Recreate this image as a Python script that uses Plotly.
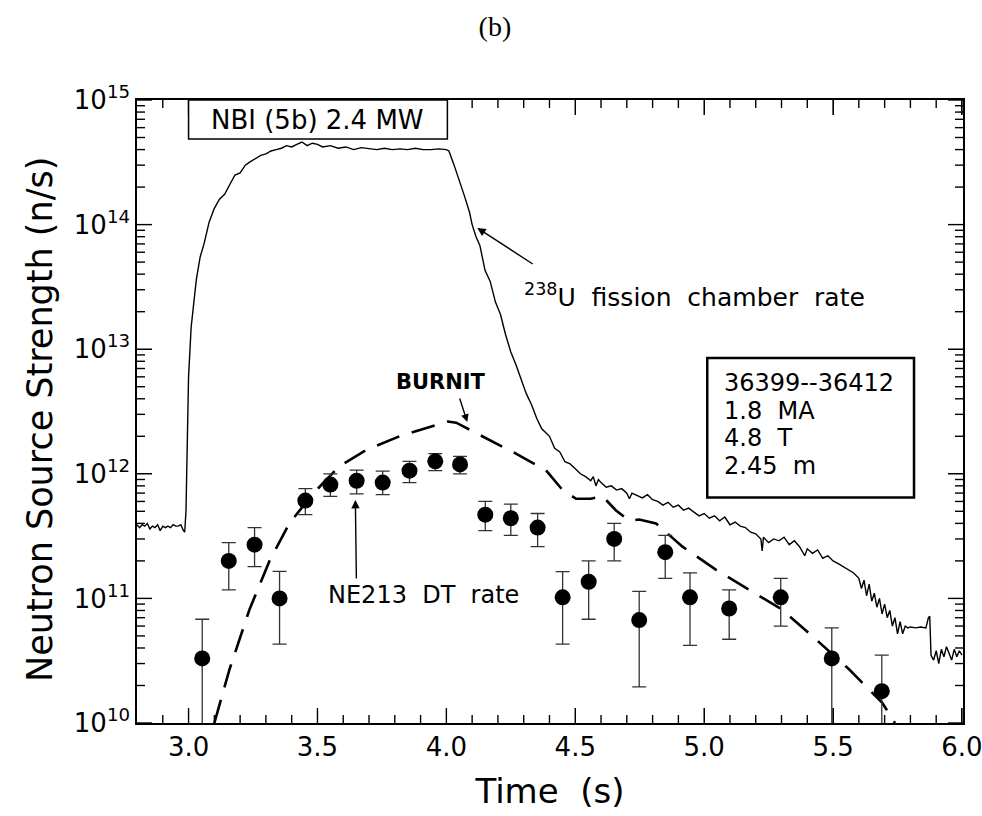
import math
import plotly.graph_objects as go

# ---------------- data ----------------
# 238U fission chamber rate (n/s)
fc_t = [2.80, 2.81, 2.82, 2.83, 2.84, 2.85, 2.86, 2.87, 2.88, 2.89, 2.90, 2.91, 2.92, 2.93, 2.94,
        2.95, 2.96, 2.97, 2.98, 2.985, 2.99, 2.995, 3.00, 3.01, 3.02, 3.03, 3.045, 3.06, 3.08,
        3.10, 3.12, 3.14, 3.16, 3.18, 3.20, 3.22, 3.24, 3.26, 3.28, 3.30, 3.32, 3.34, 3.36, 3.38,
        3.40, 3.42, 3.44, 3.46, 3.48, 3.50, 3.52, 3.55, 3.58, 3.61, 3.64, 3.67, 3.70, 3.73, 3.76,
        3.79, 3.82, 3.85, 3.88, 3.91, 3.94, 3.97, 4.00, 4.01, 4.03, 4.05, 4.07, 4.09, 4.10, 4.115,
        4.13, 4.15, 4.17, 4.19, 4.21, 4.23, 4.25, 4.27, 4.29, 4.31, 4.33, 4.35, 4.37, 4.40, 4.42,
        4.44, 4.46, 4.48, 4.50, 4.52, 4.54, 4.56, 4.57, 4.58, 4.59, 4.60, 4.62, 4.64, 4.66, 4.68,
        4.70, 4.71, 4.72, 4.74, 4.76, 4.78, 4.80, 4.82, 4.84, 4.86, 4.88, 4.90, 4.92, 4.94, 4.96,
        4.98, 5.00, 5.02, 5.04, 5.06, 5.08, 5.10, 5.12, 5.14, 5.16, 5.18, 5.20, 5.22, 5.225, 5.23,
        5.25, 5.27, 5.29, 5.31, 5.33, 5.35, 5.37, 5.39, 5.40, 5.42, 5.44, 5.46, 5.48, 5.50, 5.52,
        5.54, 5.56, 5.58, 5.60, 5.61, 5.62, 5.63, 5.64, 5.65, 5.66, 5.67, 5.68, 5.69, 5.70, 5.71,
        5.72, 5.73, 5.74, 5.75, 5.76, 5.77, 5.78, 5.79, 5.80, 5.82, 5.84, 5.86, 5.87, 5.875, 5.88,
        5.89, 5.90, 5.91, 5.92, 5.93, 5.94, 5.95, 5.96, 5.97, 5.98, 5.99, 6.00]
fc_v = [3.9e11, 3.7e11, 3.9e11, 3.8e11, 4.0e11, 3.6e11, 3.8e11, 3.7e11, 3.9e11, 3.5e11, 3.8e11,
        3.7e11, 3.8e11, 3.7e11, 3.9e11, 3.8e11, 3.8e11, 3.9e11, 3.5e11, 3.4e11, 5e11, 2e12, 6e12,
        1.5e13, 2.5e13, 3.6e13, 5.5e13, 7e13, 1.05e14, 1.35e14, 1.6e14, 1.75e14, 2.1e14, 2.5e14,
        2.6e14, 3.0e14, 3.2e14, 3.4e14, 3.6e14, 3.7e14, 3.9e14, 4.0e14, 4.1e14, 4.3e14, 4.2e14,
        4.4e14, 4.6e14, 4.3e14, 4.5e14, 4.4e14, 4.2e14, 4.3e14, 4.1e14, 4.2e14, 4.0e14, 4.15e14,
        4.05e14, 4.0e14, 4.1e14, 4.0e14, 4.05e14, 4.0e14, 4.1e14, 4.0e14, 4.0e14, 4.05e14, 4.0e14,
        3.9e14, 3.0e14, 2.3e14, 1.7e14, 1.25e14, 1.0e14, 8e13, 6.8e13, 4.3e13, 3.5e13, 2.4e13,
        1.9e13, 1.3e13, 9.5e12, 7.5e12, 5.8e12, 4.4e12, 3.6e12, 2.8e12, 2.3e12, 2.0e12, 1.6e12,
        1.5e12, 1.25e12, 1.2e12, 1.1e12, 1.0e12, 9.5e11, 8.8e11, 9.5e11, 8.0e11, 9.0e11, 8.5e11,
        7.8e11, 8.0e11, 7.4e11, 7.6e11, 7.0e11, 6.3e11, 7.0e11, 6.7e11, 6.4e11, 6.8e11, 6.2e11,
        6.0e11, 5.6e11, 5.9e11, 5.4e11, 5.6e11, 5.1e11, 5.3e11, 4.9e11, 4.6e11, 4.8e11, 4.4e11,
        4.6e11, 4.2e11, 4.5e11, 3.9e11, 4.1e11, 3.8e11, 3.7e11, 3.4e11, 3.3e11, 3.0e11, 2.4e11,
        3.1e11, 2.8e11, 3.0e11, 2.9e11, 3.1e11, 2.7e11, 2.9e11, 2.6e11, 2.2e11, 2.5e11, 2.3e11,
        2.45e11, 2.1e11, 2.2e11, 2.0e11, 1.9e11, 1.8e11, 1.7e11, 1.6e11, 1.45e11, 1.2e11, 1.4e11,
        1.05e11, 1.3e11, 9.5e10, 1.1e11, 8.5e10, 1.0e11, 7.5e10, 9e10, 7e10, 8e10, 6e10, 7e10,
        5.2e10, 6.5e10, 5.2e10, 6e10, 5.8e10, 5.9e10, 5.8e10, 5.9e10, 5.8e10, 7e10, 7.2e10, 3.5e10,
        3.2e10, 3.8e10, 3.0e10, 3.9e10, 3.4e10, 4.1e10, 3.6e10, 3.2e10, 3.9e10, 3.4e10, 3.8e10,
        3.5e10]

# BURNIT calculation (n/s)
burnit_t = [3.10, 3.159, 3.236, 3.314, 3.391, 3.482, 3.585, 3.689, 3.818, 3.947, 4.005, 4.038,
            4.141, 4.27, 4.386, 4.451, 4.503, 4.56, 4.606, 4.657, 4.709, 4.748, 4.813, 4.916,
            5.045, 5.174, 5.303, 5.433, 5.562, 5.691, 5.74]
burnit_v = [1.0e10, 2.7e10, 8.1e10, 2.0e11, 4.0e11, 6.9e11, 1.15e12, 1.55e12, 2.0e12, 2.4e12,
            2.63e12, 2.57e12, 2.0e12, 1.45e12, 1.07e12, 7.4e11, 6.3e11, 6.3e11, 6.6e11, 5.1e11,
            4.2e11, 4.3e11, 4.0e11, 2.6e11, 1.7e11, 1.17e11, 8.1e10, 4.7e10, 2.7e10, 1.45e10,
            1.0e10]

# NE213 DT rate (n/s) with error bar limits
ne_t = [3.053, 3.156, 3.256, 3.353, 3.453, 3.55, 3.652, 3.753, 3.857, 3.957, 4.053, 4.151,
        4.25, 4.354, 4.451, 4.552, 4.651, 4.748, 4.849, 4.945, 5.097, 5.297, 5.495, 5.689]
ne_v = [3.3e10, 2.0e11, 2.7e11, 1.0e11, 6.1e11, 8.2e11, 8.8e11, 8.5e11, 1.06e12, 1.26e12,
        1.19e12, 4.7e11, 4.4e11, 3.7e11, 1.02e11, 1.36e11, 3.0e11, 6.7e10, 2.35e11, 1.02e11,
        8.3e10, 1.02e11, 3.3e10, 1.8e10]
ne_hi = [6.8e10, 2.8e11, 3.7e11, 1.65e11, 7.6e11, 1.0e12, 1.07e12, 1.05e12, 1.26e12, 1.45e12,
         1.38e12, 6.0e11, 5.7e11, 4.8e11, 1.64e11, 2.0e11, 4.0e11, 1.14e11, 3.2e11, 1.6e11,
         1.17e11, 1.45e11, 5.8e10, 3.5e10]
ne_lo = [5e9, 1.17e11, 1.8e11, 4.3e10, 4.7e11, 6.6e11, 6.9e11, 6.8e11, 8.5e11, 1.06e12,
         1.0e12, 3.5e11, 3.2e11, 2.6e11, 4.3e10, 6.8e10, 2.0e11, 1.95e10, 1.45e11, 4.2e10,
         4.7e10, 6.0e10, 5e9, 5e9]

x_ticks = [3.0, 3.5, 4.0, 4.5, 5.0, 5.5, 6.0]
x_ticktext = ["3.0", "3.5", "4.0", "4.5", "5.0", "5.5", "6.0"]
y_exps = [10, 11, 12, 13, 14, 15]
info_lines = ["36399--36412", "1.8  MA", "4.8  T", "2.45  m"]

# ---------------- figure ----------------
FONT = "DejaVu Sans"
X0, X1 = 2.8, 6.0
Y0, Y1 = 10.0, 15.0
XR = [X0, X1 + 0.004]
PLOT_W, PLOT_H = 982 - 137 - 19, 816 - 100 - 93
T_PER_PX = (XR[1] - XR[0]) / PLOT_W
DEC_PER_PX = (Y1 - Y0) / PLOT_H


def px(t):
    return (t - X0) / (XR[1] - X0)


def py(lg):
    return (lg - Y0) / (Y1 - Y0)


x_minor = [round(X0 + 0.1 * i, 1) for i in range(1, 32)]
x_minor = [v for v in x_minor if v not in x_ticks]
y_minor = [m * 10 ** e for e in y_exps[:-1] for m in range(2, 10)]

# inside tick marks on all four sides, built from the tick lists
tk_x, tk_y = [], []
for t, ln in [(v, 15) for v in x_ticks] + [(v, 8) for v in x_minor]:
    f = 10 ** (ln * DEC_PER_PX)
    tk_x += [t, t, None, t, t, None]
    tk_y += [10 ** Y0, 10 ** Y0 * f, None, 10 ** Y1, 10 ** Y1 / f, None]
for v, ln in [(10 ** e, 15) for e in y_exps] + [(v, 8) for v in y_minor]:
    d = ln * T_PER_PX
    tk_x += [XR[0], XR[0] + d, None, XR[1], XR[1] - d, None]
    tk_y += [v, v, None, v, v, None]

fig = go.Figure()

fig.add_trace(go.Scatter(x=fc_t, y=fc_v, mode="lines",
                         line=dict(color="black", width=1.4), showlegend=False))
fig.add_trace(go.Scatter(x=burnit_t, y=burnit_v, mode="lines",
                         line=dict(color="black", width=2.6, dash="24px,13px"),
                         showlegend=False))
fig.add_trace(go.Scatter(
    x=ne_t, y=ne_v, mode="markers",
    marker=dict(color="black", size=16),
    error_y=dict(type="data", symmetric=False,
                 array=[h - v for h, v in zip(ne_hi, ne_v)],
                 arrayminus=[v - l for v, l in zip(ne_v, ne_lo)],
                 color="#333", thickness=1.3, width=7),
    showlegend=False))
fig.add_trace(go.Scatter(x=tk_x, y=tk_y, mode="lines", connectgaps=False,
                         line=dict(color="black", width=1.4), hoverinfo="skip",
                         showlegend=False, cliponaxis=False))

fig.update_layout(
    width=982, height=816,
    margin=dict(l=137, r=19, t=100, b=93),
    paper_bgcolor="white", plot_bgcolor="white",
    font=dict(family=FONT, color="black"),
    title=dict(text="(b)", x=0.504, xanchor="center", y=0.968, yanchor="middle",
               font=dict(family="Liberation Serif", size=28, color="black")),
    xaxis=dict(range=XR, tickmode="array", tickvals=x_ticks, ticktext=x_ticktext,
               ticklabeloverflow="allow", automargin=False,
               ticks="inside", ticklen=15, tickwidth=1.3, tickcolor="black",
               showline=True, linecolor="black", linewidth=1.5, mirror="ticks",
               showgrid=False, zeroline=False,
               tickfont=dict(family=FONT, size=26),
               title=dict(text="Time  (s)", font=dict(family=FONT, size=34), standoff=18)),
    yaxis=dict(type="log", range=[Y0, Y1], tickmode="array",
               tickvals=[10 ** e for e in y_exps],
               ticktext=["10<sup>%d</sup>" % e for e in y_exps],
               automargin=False,
               ticks="inside", ticklen=15, tickwidth=1.3, tickcolor="black",
               showline=True, linecolor="black", linewidth=1.5, mirror="ticks",
               showgrid=False, zeroline=False,
               tickfont=dict(family=FONT, size=26)),
)

# y-axis title as a rotated annotation (precise placement)
fig.add_annotation(xref="paper", yref="paper", x=(40 - 137) / PLOT_W,
                   y=1 - (420 - 100) / PLOT_H, text="Neutron Source Strength (n/s)",
                   textangle=-90, showarrow=False, xanchor="center", yanchor="middle",
                   font=dict(family=FONT, size=35))

# NBI box
fig.add_shape(type="rect", xref="paper", yref="paper", x0=px(3.0), x1=px(4.004),
              y0=py(14.687), y1=py(15.0),
              line=dict(color="black", width=1.5), fillcolor="white", layer="above")
fig.add_annotation(x=3.502, y=14.843, xref="x", yref="y", text="NBI (5b) 2.4 MW",
                   showarrow=False, font=dict(family=FONT, size=26))

# info box
fig.add_shape(type="rect", xref="paper", yref="paper", x0=px(5.012), x1=px(5.814),
              y0=py(11.81), y1=py(12.93),
              line=dict(color="black", width=2.5), fillcolor="rgba(0,0,0,0)", layer="above")
for i, line in enumerate(info_lines):
    fig.add_annotation(x=5.07, y=12.729 - i * 0.221, xref="x", yref="y", text=line,
                       showarrow=False, xanchor="left", yanchor="middle",
                       font=dict(family=FONT, size=24))

# fission chamber label + arrow
fig.add_annotation(x=4.295, y=13.43, xref="x", yref="y",
                   text="<sup>238</sup>U  fission  chamber  rate", showarrow=False,
                   xanchor="left", yanchor="middle", font=dict(family=FONT, size=25))
fig.add_annotation(x=4.12, y=13.973, ax=4.341, ay=13.676, xref="x", yref="y",
                   axref="x", ayref="y", text="", showarrow=True, arrowhead=2,
                   arrowsize=1.2, arrowwidth=1.4, arrowcolor="black")

# BURNIT label + arrow
fig.add_annotation(x=3.981, y=12.737, xref="x", yref="y", text="<b>BURNIT</b>",
                   showarrow=False, font=dict(family=FONT, size=21))
fig.add_annotation(x=4.081, y=12.416, ax=4.05, ay=12.616, xref="x", yref="y",
                   axref="x", ayref="y", text="", showarrow=True, arrowhead=2,
                   arrowsize=1.1, arrowwidth=1.4, arrowcolor="black")

# NE213 label + arrow
fig.add_annotation(x=3.911, y=11.027, xref="x", yref="y", text="NE213  DT  rate",
                   showarrow=False, font=dict(family=FONT, size=24))
fig.add_annotation(x=3.647, y=11.79, ax=3.651, ay=11.148, xref="x", yref="y",
                   axref="x", ayref="y", text="", showarrow=True, arrowhead=2,
                   arrowsize=1.2, arrowwidth=1.4, arrowcolor="black")

fig.write_html("out.html")
